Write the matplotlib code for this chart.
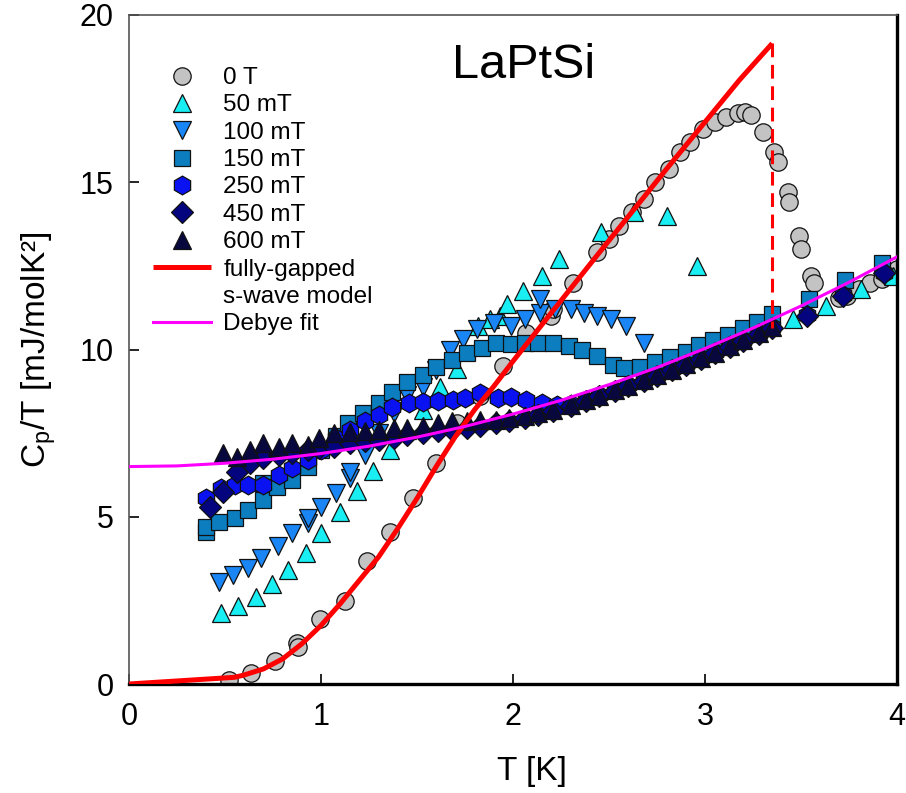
import matplotlib
matplotlib.use("Agg")
import matplotlib.pyplot as plt
from matplotlib.lines import Line2D

plt.rcParams['font.family'] = ['Liberation Sans', 'DejaVu Sans']
plt.rcParams['mathtext.fontset'] = 'custom'
plt.rcParams['mathtext.rm'] = 'Liberation Sans'
plt.rcParams['mathtext.it'] = 'Liberation Sans:italic'

# ---------------- data ----------------
T_0T = [0.52, 0.635, 0.76, 0.875, 0.88, 0.995, 1.125, 1.24, 1.36, 1.48, 1.60, 1.71,
        1.83, 1.95, 2.07, 2.20, 2.21, 2.31, 2.44, 2.50, 2.55, 2.62, 2.68, 2.74, 2.81,
        2.87, 2.92, 2.99, 3.05, 3.11, 3.17, 3.21, 3.24, 3.30, 3.36, 3.38, 3.43, 3.44,
        3.49, 3.50, 3.55, 3.57, 3.70, 3.74, 3.80, 3.86, 3.92, 3.97, 4.00]
C_0T = [0.12, 0.33, 0.69, 1.23, 1.10, 1.94, 2.48, 3.68, 4.54, 5.56, 6.60, 7.80,
        8.60, 9.50, 10.50, 11.00, 11.20, 12.00, 12.90, 13.30, 13.70, 14.10, 14.50, 15.00, 15.40,
        15.90, 16.20, 16.60, 16.80, 16.95, 17.07, 17.10, 17.00, 16.50, 15.90, 15.60, 14.70, 14.40,
        13.40, 13.00, 12.20, 12.00, 11.55, 11.60, 11.80, 12.00, 12.10, 12.30, 12.40]

T_50 = [0.48, 0.57, 0.66, 0.745, 0.83, 0.92, 1.00, 1.10, 1.19, 1.27, 1.36, 1.45, 1.53,
        1.62, 1.71, 1.82, 1.88, 1.93, 1.97, 2.05, 2.15, 2.24, 2.46, 2.63, 2.80, 2.96,
        3.46, 3.63, 3.81, 3.98]
C_50 = [2.12, 2.33, 2.60, 2.99, 3.41, 3.92, 4.50, 5.15, 5.77, 6.38, 7.00, 7.60, 8.20,
        8.88, 9.42, 10.70, 10.90, 11.00, 11.35, 11.75, 12.20, 12.70, 13.50, 14.10, 14.00, 12.50,
        10.90, 11.30, 11.80, 12.20]

T_100 = [0.47, 0.54, 0.62, 0.69, 0.775, 0.85, 0.93, 0.93, 1.00, 1.08, 1.15, 1.15, 1.23,
         1.30, 1.38, 1.45, 1.53, 1.60, 1.67, 1.74, 1.81, 1.90, 1.99, 2.06, 2.14, 2.14,
         2.22, 2.30, 2.37, 2.44, 2.51, 2.59, 2.68]
C_100 = [3.05, 3.26, 3.47, 3.77, 4.13, 4.50, 4.80, 4.96, 5.30, 5.70, 6.15, 6.35, 6.85,
         7.50, 8.10, 8.64, 8.88, 9.40, 10.00, 10.30, 10.60, 10.80, 10.70, 10.90, 11.10, 11.50,
         11.20, 11.20, 11.10, 11.00, 10.90, 10.70, 10.20]

T_150 = [0.40, 0.40, 0.47, 0.55, 0.62, 0.70, 0.70, 0.77, 0.85, 0.93, 1.00, 1.08, 1.14,
         1.22, 1.30, 1.37, 1.45, 1.53, 1.60, 1.68, 1.76, 1.84, 1.91, 1.99, 2.06, 2.13,
         2.21, 2.29, 2.36, 2.44, 2.52, 2.58, 2.66, 2.74, 2.82, 2.90, 2.97, 3.04, 3.12,
         3.20, 3.27, 3.35, 3.54, 3.73, 3.92]
C_150 = [4.55, 4.70, 4.84, 4.96, 5.20, 5.50, 6.00, 5.90, 6.10, 6.50, 7.00, 7.40, 7.80,
         8.10, 8.40, 8.73, 9.03, 9.24, 9.48, 9.69, 9.90, 10.04, 10.19, 10.15, 10.20, 10.20,
         10.20, 10.10, 10.00, 9.80, 9.54, 9.45, 9.48, 9.63, 9.78, 9.93, 10.13, 10.28, 10.43,
         10.64, 10.82, 11.05, 11.50, 12.08, 12.60]

T_250 = [0.40, 0.48, 0.55, 0.62, 0.70, 0.78, 0.85, 0.93, 1.00, 1.08, 1.15, 1.23, 1.30,
         1.37, 1.46, 1.53, 1.61, 1.69, 1.75, 1.83, 1.92, 1.99, 2.07, 2.15, 2.23,
         2.30, 2.38, 2.45, 2.53, 2.60, 2.68, 2.75, 2.83, 2.90, 2.98, 3.05, 3.13, 3.20,
         3.28, 3.35, 3.53, 3.72, 3.93]
C_250 = [5.56, 5.86, 5.95, 5.95, 5.95, 6.25, 6.45, 6.70, 7.00, 7.35, 7.60, 7.85, 8.05,
         8.28, 8.40, 8.43, 8.45, 8.50, 8.55, 8.70, 8.55, 8.58, 8.49, 8.40, 8.34,
         8.36, 8.50, 8.64, 8.80, 8.94, 9.10, 9.25, 9.42, 9.58, 9.76, 9.93, 10.12, 10.29,
         10.50, 10.68, 11.03, 11.63, 12.29]

T_450 = [0.42, 0.49, 0.56, 0.63, 0.70, 0.78, 0.85, 0.93, 0.99, 1.07, 1.15, 1.23, 1.30,
         1.38, 1.45, 1.53, 1.61, 1.68, 1.76, 1.83, 1.91, 1.98, 2.06, 2.13, 2.21,
         2.30, 2.38, 2.45, 2.53, 2.60, 2.68, 2.75, 2.83, 2.90, 2.98, 3.05, 3.13, 3.20,
         3.28, 3.35, 3.53, 3.72, 3.93]
C_450 = [5.30, 5.75, 6.34, 6.60, 6.75, 6.85, 6.90, 7.00, 7.05, 7.10, 7.20, 7.25, 7.30,
         7.35, 7.45, 7.50, 7.55, 7.60, 7.65, 7.70, 7.80, 7.85, 7.95, 8.05, 8.15,
         8.32, 8.47, 8.60, 8.76, 8.90, 9.06, 9.21, 9.38, 9.54, 9.72, 9.89, 10.08, 10.25,
         10.46, 10.64, 11.00, 11.60, 12.28]

T_600 = [0.49, 0.56, 0.63, 0.70, 0.78, 0.85, 0.93, 0.99, 1.07, 1.15, 1.23, 1.30, 1.38,
         1.45, 1.53, 1.61, 1.68, 1.76, 1.83, 1.91, 1.98, 2.06, 2.13, 2.21,
         2.30, 2.38, 2.45, 2.53, 2.60, 2.68, 2.75, 2.83, 2.90, 2.98, 3.05, 3.13, 3.20,
         3.28, 3.35]
C_600 = [6.90, 6.80, 7.00, 7.20, 7.10, 7.20, 7.15, 7.35, 7.50, 7.53, 7.55, 7.60, 7.65,
         7.65, 7.70, 7.80, 7.85, 7.85, 7.90, 7.90, 7.95, 8.00, 8.10, 8.20,
         8.34, 8.49, 8.62, 8.78, 8.92, 9.08, 9.23, 9.40, 9.56, 9.74, 9.91, 10.10, 10.27,
         10.48, 10.66]

# fully-gapped s-wave model
T_model = [0.0, 0.55, 0.60, 0.70, 0.80, 0.90, 1.00, 1.10, 1.20, 1.30, 1.40, 1.50,
           1.60, 1.70, 1.80, 1.90, 2.00, 2.20, 2.45, 2.80, 3.18, 3.35]
C_model = [0.0, 0.20, 0.27, 0.45, 0.75, 1.20, 1.75, 2.40, 3.10, 3.80, 4.65, 5.55,
           6.50, 7.40, 8.20, 8.90, 9.65, 11.10, 12.90, 15.40, 18.06, 19.15]
Tc_model = 3.35
C_jump_low = 10.65

# Debye fit
T_debye = [0.0, 0.25, 0.5, 0.75, 1.0, 1.25, 1.5, 1.75, 2.0, 2.25, 2.5, 2.75,
           3.0, 3.25, 3.5, 3.75, 4.0]
C_debye = [6.50, 6.52, 6.60, 6.72, 6.89, 7.11, 7.38, 7.70, 8.07, 8.48, 8.95, 9.46,
           10.03, 10.64, 11.30, 12.01, 12.77]

series = [
    ("0 T", T_0T, C_0T, 'o', '#C3C3C3', 12.5),
    ("50 mT", T_50, C_50, '^', '#19EEF2', 12.5),
    ("100 mT", T_100, C_100, 'v', '#1A86F5', 12.5),
    ("150 mT", T_150, C_150, 's', '#0C7EC0', 11.2),
    ("250 mT", T_250, C_250, 'h', '#0A12F2', 13.5),
    ("450 mT", T_450, C_450, 'D', '#04047E', 10.8),
    ("600 mT", T_600, C_600, '^', '#08083F', 12.5),
]

# ---------------- figure ----------------
W, H = 906, 793
fig = plt.figure(figsize=(W / 100, H / 100), dpi=100)
ax = fig.add_axes([129 / W, 1 - 684 / H, (897 - 129) / W, (684 - 15) / H])

handles = []
labels = []
for lab, t, c, m, col, ms in series:
    h, = ax.plot(t, c, ls='none', marker=m, ms=ms, mfc=col, mec='#111111', mew=0.9)
    handles.append(h)
    labels.append(lab)

h_red, = ax.plot(T_model, C_model, color='#FF0000', lw=3.6, solid_capstyle='butt', zorder=5)
ax.plot([Tc_model, Tc_model], [C_model[-1], C_jump_low], color='#FF0000', lw=2.2,
        dashes=(4.5, 2.5), zorder=5)
h_mag, = ax.plot(T_debye, C_debye, color='#FF00FF', lw=2.2, zorder=6)
h_blank = Line2D([], [], ls='none', marker=None)
handles += [h_red, h_blank, h_mag]
labels += ["fully-gapped", "s-wave model", "Debye fit"]

ax.set_xlim(0, 4)
ax.set_ylim(0, 20)
ax.set_xticks([0, 1, 2, 3, 4])
ax.set_yticks([0, 5, 10, 15, 20])
ax.tick_params(axis='both', which='both', direction='in', length=7, width=1.2,
               labelsize=22, top=False, right=False)
ax.tick_params(axis='x', pad=13)
ax.tick_params(axis='y', pad=11)

for side in ['left', 'top']:
    ax.spines[side].set_linewidth(1.2)
    ax.spines[side].set_color('#555555')
for side in ['right', 'bottom']:
    ax.spines[side].set_linewidth(2.4)
    ax.spines[side].set_color('black')

ax.set_xlabel("T [K]", fontsize=24)
ax.xaxis.set_label_coords((532 - 129) / 768, -(756 - 684) / 669)
ax.set_ylabel(r"C$_\mathregular{p}$/T [mJ/molK²]", fontsize=24)
ax.yaxis.set_label_coords(-(129 - 58) / 768, 0.5)

ax.text((452 - 129) / 192, (684 - 78) / 33.45, "LaPtSi", fontsize=35,
        ha='left', va='baseline')

leg = ax.legend(handles, labels, loc='upper left',
                bbox_to_anchor=((153 - 129) / 768, (684 - 67) / 669),
                frameon=False, fontsize=17.5, handlelength=2.4, handletextpad=0.5,
                labelspacing=0.22, borderaxespad=0, borderpad=0, numpoints=1)

fig.savefig("out.png", dpi=100)
